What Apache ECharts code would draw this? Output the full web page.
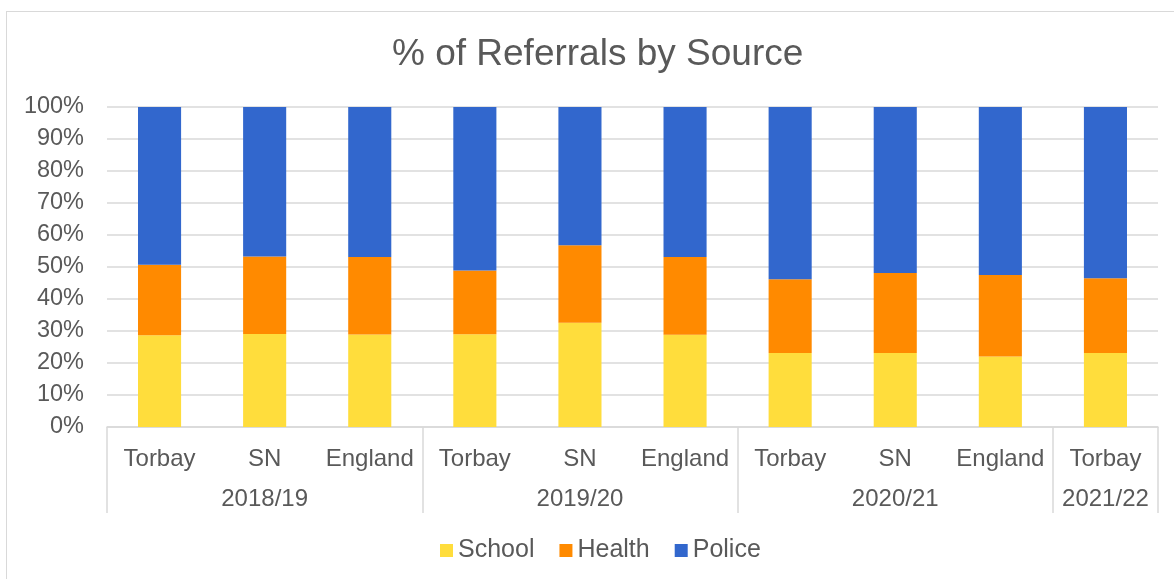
<!DOCTYPE html>
<html>
<head>
<meta charset="utf-8">
<script src="https://cdn.jsdelivr.net/npm/echarts@6/dist/echarts.min.js"></script>
<style>
html,body{margin:0;padding:0;background:#fff;}
#frame{position:absolute;left:6px;top:11px;width:1300px;height:700px;border-left:1px solid #d9d9d9;border-top:1px solid #d9d9d9;box-sizing:border-box;}
#chart{position:absolute;left:0;top:0;width:1174px;height:579px;}
</style>
</head>
<body>
<div id="frame"></div>
<div id="chart"></div>
<script>
const categories = ['Torbay','SN','England','Torbay','SN','England','Torbay','SN','England','Torbay'];
const groupLabels = ['', '2018/19', '', '', '2019/20', '', '', '2020/21', '', '2021/22'];
const groupStarts = [0, 3, 6, 9, 10];
const school = [28.7, 29.1, 28.9, 29.0, 32.6, 28.8, 23.1, 23.1, 22.0, 23.1];
const health = [22.0, 24.2, 24.2, 19.9, 24.2, 24.3, 23.1, 25.0, 25.5, 23.4];
const police = [49.3, 46.7, 46.9, 51.1, 43.2, 46.9, 53.8, 51.9, 52.5, 53.5];
const yTicks = [0,10,20,30,40,50,60,70,80,90,100];

const FONT = '"Liberation Sans", Arial, sans-serif';
const TXT = '#595959';
const chart = echarts.init(document.getElementById('chart'), null, {renderer:'canvas'});
chart.setOption({
  animation:false,
  backgroundColor:'transparent',
  title:{text:'% of Referrals by Source', left:387, top:31,
    textStyle:{fontFamily:FONT, fontSize:37, fontWeight:'normal', color:TXT}},
  legend:{bottom:11, left:435, itemWidth:13, itemHeight:13, itemGap:25, icon:'rect',
    textStyle:{fontFamily:FONT, fontSize:25, color:TXT},
    data:['School','Health','Police']},
  grid:{left:107, right:16, top:107, bottom:152, containLabel:false},
  xAxis:[{
    type:'category', data:categories, position:'bottom',
    axisLine:{show:true, lineStyle:{color:'#d9d9d9', width:1.5}},
    axisTick:{show:false},
    axisLabel:{interval:0, margin:20, fontFamily:FONT, fontSize:24, color:TXT}
  },{
    type:'category', data:groupLabels, position:'bottom', gridIndex:0,
    axisLine:{show:false},
    axisTick:{show:true, length:86, lineStyle:{color:'#d9d9d9', width:1.5},
      interval:function(i){return groupStarts.indexOf(i) >= 0;}},
    axisLabel:{interval:0, margin:60, fontFamily:FONT, fontSize:24, color:TXT}
  }],
  yAxis:{type:'value', min:0, max:100, interval:10,
    axisLine:{show:false}, axisTick:{show:false},
    splitLine:{lineStyle:{color:'#d9d9d9', width:1.5}},
    axisLabel:{margin:23, fontFamily:FONT, fontSize:23.5, color:TXT,
      formatter:function(v){return yTicks.indexOf(v)>=0 ? v+'%' : '';}}},
  series:[
    {name:'School', type:'bar', stack:'t', data:school, barWidth:'41%', itemStyle:{color:'#FFDD3C'}},
    {name:'Health', type:'bar', stack:'t', data:health, itemStyle:{color:'#FF8A00'}},
    {name:'Police', type:'bar', stack:'t', data:police, itemStyle:{color:'#3267CD'}}
  ]
});
</script>
</body>
</html>
